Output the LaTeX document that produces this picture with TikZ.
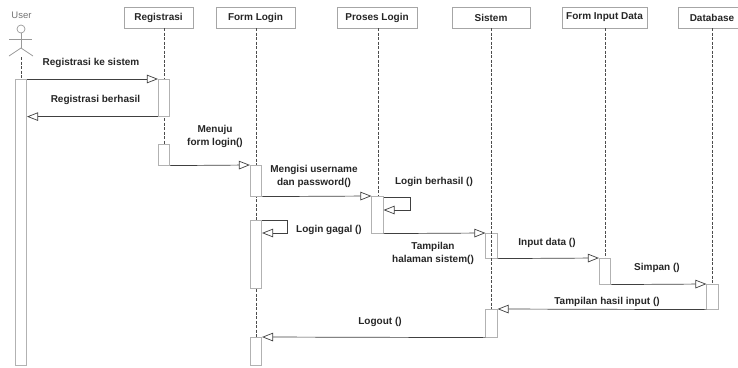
\documentclass[tikz,border=0pt]{standalone}
\usepackage{fontspec}
\setmainfont{Liberation Sans}
\usetikzlibrary{arrows.meta,calc}
\begin{document}
\begin{tikzpicture}[x=1pt,y=-1pt,
  every node/.style={font=\fontsize{10}{13}\selectfont\bfseries, text=black!85},
  head/.style={draw=black!35, fill=white, minimum height=21pt, inner sep=0pt, line width=0.6pt},
  act/.style={draw=black!30, fill=white, minimum width=11.5pt, inner sep=0pt, anchor=north, line width=0.6pt},
  life/.style={draw=black!70, line width=0.6pt, dash pattern=on 3pt off 1.5pt},
  msg/.style={draw=black!75, line width=0.7pt, -{Triangle[open, length=11pt, width=8.5pt, fill=white]}},
  lbl/.style={align=center, inner sep=0pt},
  actor/.style={draw=black!40, line width=0.7pt}
]
\useasboundingbox (0,0) rectangle (738,367);

% headers
\node[head, minimum width=69pt] (hR) at (158.5,17.5) {Registrasi};
\node[head, minimum width=79pt] (hF) at (255.5,17.5) {Form Login};
\node[head, minimum width=80pt] (hP) at (377,17.5) {Proses Login};
\node[head, minimum width=78pt] (hS) at (491,17.5) {Sistem};
\node[head, minimum width=85pt] (hI) at (604.5,17.5) {Form Input Data};
\node[head, minimum width=68pt] (hD) at (712,17.5) {Database};

% actor
\node[font=\fontsize{9.5}{11}\selectfont, text=black!55, inner sep=0pt] (uname) at (21.5,15) {User};
\node[draw=black!40, circle, minimum size=8pt, inner sep=0pt, line width=0.7pt] (uhead) at (21,29) {};
\coordinate (uhip) at (21,48);
\draw[actor] (uhead.south) -- (uhip);
\draw[actor] (9,39) -- (32,39);
\draw[actor] (9,56) -- (uhip) -- (33,56);
\coordinate (ufoot) at (21,57);

% lifelines (behind boxes)
\coordinate (rEnd) at (164,165);
\coordinate (fEnd) at (256,365);
\coordinate (pEnd) at (378,233);
\coordinate (iEnd) at (605,284);
\coordinate (dEnd) at (712,308);
\draw[life] (ufoot) -- (21,79);
\draw[life] (164,28) -- (rEnd);
\draw[life] (256,28) -- (fEnd);
\draw[life] (378,28) -- (pEnd);
\draw[life] (605,28) -- (iEnd);
\draw[life] (712,28) -- (dEnd);

% activation boxes
\node[act, minimum height=286pt] (ub) at (21,79) {};
\node[act, minimum height=37pt] (rb1) at (164,79) {};
\node[act, minimum height=21pt] (rb2) at (164,144) {};
\node[act, minimum height=31pt] (fb1) at (256,165) {};
\node[act, minimum height=37pt] (pb) at (377.5,196) {};
\node[act, minimum height=25pt] (sb1) at (491.5,233) {};
\node[act, minimum height=68pt] (fb2) at (256,220) {};
\node[act, minimum height=26pt] (ib) at (605,258) {};
\node[act, minimum height=25pt] (db) at (712.5,284) {};
\node[act, minimum height=28pt] (sb2) at (491.5,309) {};
\node[act, minimum height=28pt] (fb3) at (256,337) {};

% Sistem lifeline drawn over its first box
\coordinate (sEnd) at (491,309);
\draw[life] (491,28) -- (sEnd);

% messages
\draw[msg] (ub.north east) -- (rb1.north west);
\node[lbl] (l1) at (91,63) {Registrasi ke sistem};

\draw[msg] (rb1.south west) -- (ub.east |- rb1.south);
\node[lbl] (l2) at (95.5,100) {Registrasi berhasil};

\draw[msg] (rb2.south east) -- (fb1.north west);
\node[lbl] (l3) at (215,136.5) {Menuju\\form login()};

\draw[msg] (fb1.south east) -- (pb.north west);
\node[lbl] (l4) at (314,176) {Mengisi username\\dan password()};

\coordinate (pl1) at ($(pb.north east)+(27,1)$);
\coordinate (pl2) at ($(pb.north east)+(27,14)$);
\draw[msg] ($(pb.north east)+(0,1)$) -- (pl1) -- (pl2) -- (pb.east |- pl2);
\node[lbl] (l5) at (434,182) {Login berhasil ()};

\draw[msg] (pb.south east) -- (sb1.north west);
\node[lbl] (l6) at (433,253.5) {Tampilan\\halaman sistem()};

\coordinate (fl1) at ($(fb2.north east)+(25,0)$);
\coordinate (fl2) at ($(fb2.north east)+(25,13)$);
\draw[msg] (fb2.north east) -- (fl1) -- (fl2) -- (fb2.east |- fl2);
\node[lbl] (l7) at (329,230) {Login gagal ()};

\draw[msg] (sb1.south east) -- (ib.north west);
\node[lbl] (l8) at (547,243) {Input data ()};

\draw[msg] (ib.south east) -- (db.north west);
\node[lbl] (l9) at (657,268) {Simpan ()};

\draw[msg] (db.south west) -- (sb2.north east);
\node[lbl] (l10) at (607,302) {Tampilan hasil input ()};

\draw[msg] (sb2.south west) -- (fb3.north east);
\node[lbl] (l11) at (380,322) {Logout ()};
\end{tikzpicture}
\end{document}
